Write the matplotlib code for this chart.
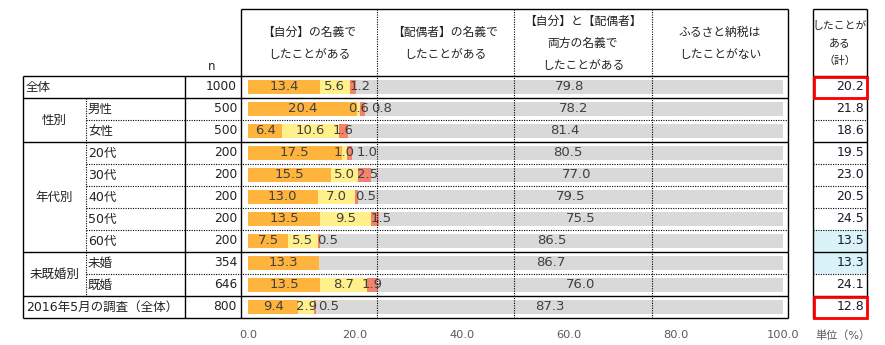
import matplotlib
matplotlib.use("Agg")
import matplotlib.pyplot as plt
from matplotlib.patches import Rectangle

plt.rcParams['font.family'] = ['DejaVu Sans', 'Noto Sans CJK JP']

# ---- data -------------------------------------------------------------
categories = ['全体', '男性', '女性', '20代', '30代', '40代', '50代', '60代',
              '未婚', '既婚', '2016年5月の調査（全体）']
n_values = [1000, 500, 500, 200, 200, 200, 200, 200, 354, 646, 800]
own_name = [13.4, 20.4, 6.4, 17.5, 15.5, 13.0, 13.5, 7.5, 13.3, 13.5, 9.4]
spouse_name = [5.6, 0.6, 10.6, 1.0, 5.0, 7.0, 9.5, 5.5, 0.0, 8.7, 2.9]
both_names = [1.2, 0.8, 1.6, 1.0, 2.5, 0.5, 1.5, 0.5, 0.0, 1.9, 0.5]
never = [79.8, 78.2, 81.4, 80.5, 77.0, 79.5, 75.5, 86.5, 86.7, 76.0, 87.3]
ever_total = [20.2, 21.8, 18.6, 19.5, 23.0, 20.5, 24.5, 13.5, 13.3, 24.1, 12.8]
series_headers = ['【自分】の名義で\nしたことがある',
                  '【配偶者】の名義で\nしたことがある',
                  '【自分】と【配偶者】\n両方の名義で\nしたことがある',
                  'ふるさと納税は\nしたことがない']
groups = [('性別', 1, 2), ('年代別', 3, 7), ('未既婚別', 8, 9)]
x_ticks = [0, 20, 40, 60, 80, 100]

colors = ['#FFB43E', '#FFF08C', '#F4836B', '#D9D9D9']
TXT = '#222222'
LBL = '#404040'

# ---- layout (pixels) --------------------------------------------------
W, H = 885, 345
X_L, X_SUB, X_N, X_B0, X_R = 23, 86, 185, 241, 788
COL_DIV = [377, 514, 652]
X_T0, X_T1 = 813, 867
Y_HEAD, Y0, RH = 9, 76, 22
NROW = len(categories)
Y_END = Y0 + RH * NROW
BAR_L, BAR_R = 248, 783

fig = plt.figure(figsize=(W / 100, H / 100), dpi=100)

# bar area
ax = fig.add_axes([BAR_L / W, (H - Y_END) / H, (BAR_R - BAR_L) / W, (Y_END - Y0) / H])
ax.set_xlim(0, 100)
ax.set_ylim(NROW - 0.5, -0.5)
for s in ax.spines.values():
    s.set_visible(False)
ax.set_yticks([])
ax.set_xticks(x_ticks)
ax.set_xticklabels([f'{v:.1f}' for v in x_ticks])
ax.tick_params(axis='x', length=0, pad=9, labelsize=8.2, labelcolor='#595959')
ax.patch.set_alpha(0)

rows = list(range(NROW))
series = [own_name, spouse_name, both_names, never]
left = [0.0] * NROW
for vals, c in zip(series, colors):
    ax.barh(rows, vals, left=left, height=0.68, color=c, linewidth=0)
    left = [a + b for a, b in zip(left, vals)]

renderer = fig.canvas.get_renderer()
px_per_unit = ax.transData.transform((1, 0))[0] - ax.transData.transform((0, 0))[0]
GAP = 2.0
for r in rows:
    cum = 0.0
    prev_x1 = -1e9
    for k in range(3):
        v = series[k][r]
        if v > 0:
            if k == 2 and v <= 1.5:
                x, ha = cum, 'left'
            else:
                x, ha = cum + v / 2, 'center'
            t = ax.text(x, r, f'{v:.1f}', ha=ha, va='center', fontsize=9.5, color=LBL)
            bb = t.get_window_extent(renderer)
            x0, x1 = bb.x0, bb.x1
            if x0 < prev_x1 + GAP:
                shift = prev_x1 + GAP - x0
                t.set_x(x + shift / px_per_unit)
                x1 += shift
            prev_x1 = x1
        cum += v
    v = series[3][r]
    ax.text(cum + v / 2, r, f'{v:.1f}', ha='center', va='center', fontsize=9.5, color=LBL)

# table overlay in pixel coordinates
ov = fig.add_axes([0, 0, 1, 1], zorder=5)
ov.set_xlim(0, W)
ov.set_ylim(H, 0)
ov.axis('off')
ov.patch.set_alpha(0)

SOLID = dict(color='black', lw=1.0, solid_capstyle='butt')
DOT = dict(color='black', lw=0.8, linestyle=(0, (1, 1.2)))

def ry(i):
    return Y0 + RH * i

solid_bounds = {0, 1, 3, 8, 10, 11}
for k in range(NROW + 1):
    y = ry(k)
    if k in solid_bounds:
        ov.plot([X_L, X_R], [y, y], **SOLID)
        ov.plot([X_T0, X_T1], [y, y], **SOLID)
    else:
        ov.plot([X_SUB, X_R], [y, y], **DOT)
        ov.plot([X_T0, X_T1], [y, y], **DOT)

ov.plot([X_B0, X_R], [Y_HEAD, Y_HEAD], **SOLID)
ov.plot([X_T0, X_T1], [Y_HEAD, Y_HEAD], **SOLID)
for x in (X_B0, X_R, X_T0, X_T1):
    ov.plot([x, x], [Y_HEAD, Y_END], **SOLID)
for x in (X_L, X_N):
    ov.plot([x, x], [Y0, Y_END], **SOLID)
for x in COL_DIV:
    ov.plot([x, x], [Y_HEAD, Y_END], **DOT)
ov.plot([X_SUB, X_SUB], [ry(1), ry(10)], **DOT)

# header texts
col_edges = [X_B0] + COL_DIV + [X_R]
for i, h in enumerate(series_headers):
    ov.text((col_edges[i] + col_edges[i + 1]) / 2, (Y_HEAD + Y0) / 2 + 1, h,
            ha='center', va='center', fontsize=8.5, color=TXT, linespacing=1.9)
ov.text((X_T0 + X_T1) / 2, (Y_HEAD + Y0) / 2 + 1, 'したことが\nある\n（計）',
        ha='center', va='center', fontsize=7.8, color=TXT, linespacing=1.9)
ov.text(212, 67, 'n', ha='center', va='center', fontsize=8.5, color=TXT)

# row labels
grouped = set()
for g, a, b in groups:
    ov.text((X_L + X_SUB) / 2, (ry(a) + ry(b + 1)) / 2, g, ha='center', va='center',
            fontsize=9, color=TXT)
    grouped.update(range(a, b + 1))
for r in rows:
    yc = ry(r) + RH / 2
    if r in grouped:
        ov.text(X_SUB + 2, yc, categories[r], ha='left', va='center', fontsize=9, color=TXT)
    else:
        ov.text(X_L + 3, yc, categories[r], ha='left', va='center', fontsize=9, color=TXT)
    ov.text(X_N + 52, yc, f'{n_values[r]}', ha='right', va='center', fontsize=8.8, color=TXT)

# total column
highlight_bg = {7, 8}
highlight_box = {0, NROW - 1}
for r in rows:
    yc = ry(r) + RH / 2
    if r in highlight_bg:
        ov.add_patch(Rectangle((X_T0, ry(r)), X_T1 - X_T0, RH, facecolor='#DAF3F9',
                               edgecolor='none', zorder=0))
    if r in highlight_box:
        ov.add_patch(Rectangle((X_T0 + 0.5, ry(r) + 0.5), X_T1 - X_T0 - 1, RH - 1,
                               facecolor='none', edgecolor='#FF0000', lw=2.0, zorder=6))
    ov.text(X_T1 - 3, yc, f'{ever_total[r]:.1f}', ha='right', va='center',
            fontsize=9, color='#1A1A2E')

ov.text(843, 336, '単位（%）', ha='center', va='center', fontsize=8, color='#595959')

fig.savefig('out.png', dpi=100)
